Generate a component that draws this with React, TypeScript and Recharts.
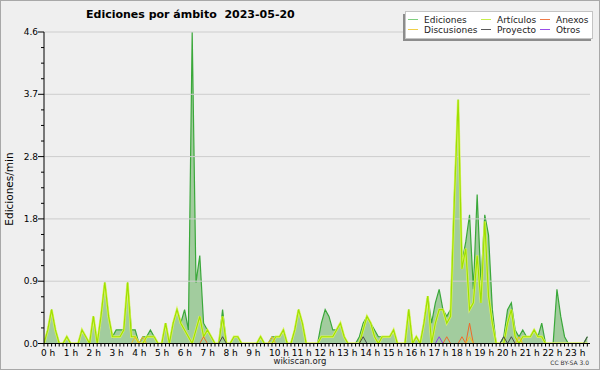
import React from 'react';
import { ComposedChart, Area, Line, XAxis, YAxis, ReferenceLine } from 'recharts';

// 10-minute buckets, 2023-05-20, edits per minute
const ediciones = [
  0, 0.2, 0.5, 0.2, 0, 0, 0.1, 0, 0, 0,
  0.2, 0.1, 0, 0.4, 0, 0.4, 0.9, 0.4, 0.1, 0.2,
  0.2, 0.2, 0.9, 0.2, 0.2, 0, 0.1, 0.1, 0.2, 0.1,
  0, 0, 0.3, 0, 0.3, 0.5, 0.3, 0.5, 0.2, 4.6,
  0.9, 1.3, 0.3, 0.2, 0.1, 0, 0, 0.5, 0, 0,
  0.1, 0.1, 0, 0, 0, 0, 0, 0.1, 0, 0,
  0.1, 0.1, 0.1, 0.2, 0, 0, 0.2, 0.5, 0.3, 0,
  0, 0, 0, 0.3, 0.5, 0.4, 0.2, 0.2, 0.3, 0.1,
  0, 0, 0, 0.1, 0.3, 0.4, 0.3, 0.2, 0.1, 0.1,
  0.1, 0.1, 0.2, 0, 0, 0, 0.5, 0, 0.1, 0,
  0.3, 0.7, 0.3, 0.6, 0.8, 0.5, 0.4, 0.5, 2.2, 3.6,
  1.2, 1.5, 1.9, 0.8, 2.2, 0.9, 1.9, 1.6, 0.5, 0,
  0, 0.1, 0.5, 0.6, 0.2, 0.1, 0.2, 0.1, 0.1, 0.2,
  0.1, 0.3, 0, 0, 0, 0.8, 0.4, 0.1, 0, 0,
  0, 0, 0, 0.1,
];

const articulos = [
  0, 0.2, 0.5, 0.2, 0, 0, 0.1, 0, 0, 0,
  0.2, 0.1, 0, 0.4, 0, 0.4, 0.9, 0.4, 0.1, 0.1,
  0.1, 0.2, 0.9, 0.1, 0.1, 0, 0, 0.1, 0.1, 0.1,
  0, 0, 0.3, 0, 0.3, 0.5, 0.3, 0.2, 0.1, 0,
  0.2, 0.4, 0.1, 0.2, 0.1, 0, 0, 0.4, 0, 0,
  0.1, 0.1, 0, 0, 0, 0, 0, 0.1, 0, 0,
  0, 0.1, 0.1, 0.2, 0, 0, 0.2, 0.5, 0.3, 0,
  0, 0, 0, 0.1, 0.1, 0.1, 0.1, 0.2, 0.3, 0.1,
  0, 0, 0, 0, 0.2, 0.4, 0.3, 0.1, 0, 0.1,
  0.1, 0.1, 0.2, 0, 0, 0, 0.5, 0, 0.1, 0,
  0.3, 0.7, 0, 0.3, 0.5, 0.5, 0.3, 0.4, 2.1, 3.6,
  1.1, 1.4, 0.5, 0.6, 1.3, 0.6, 1.8, 0.7, 0.3, 0,
  0, 0, 0.3, 0.5, 0.1, 0, 0.1, 0.1, 0.1, 0.2,
  0.1, 0.1, 0, 0, 0, 0, 0, 0, 0, 0,
  0, 0, 0, 0,
];

// the small namespaces only have a few non-zero buckets: [bucket, value]
const anexos = [[42, 0.1], [106, 0.1], [110, 0.1], [112, 0.3]];
const discusiones = [[24, 0.1], [26, 0.1], [60, 0.1], [112, 0.1], [125, 0.1]];
const proyecto = [[47, 0.1], [84, 0.1], [121, 0.1], [123, 0.1], [143, 0.1]];
const otros = [[104, 0.1]];

const hourLabels = [
  '0 h', '1 h', '2 h', '3 h', '4 h', '5 h', '6 h', '7 h', '8 h', '9 h', '10 h', '11 h',
  '12 h', '13 h', '14 h', '15 h', '16 h', '17 h', '18 h', '19 h', '20 h', '21 h', '22 h', '23 h',
];
const yMajor = [0, 0.92, 1.84, 2.76, 3.68, 4.6];
const yLabels = ['0.0', '0.9', '1.8', '2.8', '3.7', '4.6'];

const sparse = (pairs: number[][], i: number) => {
  const hit = pairs.find((p) => p[0] === i);
  return hit ? hit[1] : 0;
};

const data = ediciones.map((v, i) => ({
  t: i,
  ed: v,
  art: articulos[i],
  anx: sparse(anexos, i),
  disc: sparse(discusiones, i),
  proy: sparse(proyecto, i),
  otros: sparse(otros, i),
}));

const xTicks = ediciones.map((_, i) => i);
const yTicks: number[] = [];
yMajor.slice(0, -1).forEach((m, k) => {
  const step = (yMajor[k + 1] - m) / 4;
  for (let j = 0; j < 4; j++) yTicks.push(+(m + step * j).toFixed(3));
});
yTicks.push(4.6);

const W = 600;
const H = 370;
const LEFT = 44;
const BOTTOM = 343.5;
const FONT = "'DejaVu Sans', sans-serif";

const XTick = (props: any) => {
  const { x, payload } = props;
  const v = payload.value as number;
  return (
    <g>
      <line x1={x} x2={x} y1={BOTTOM} y2={BOTTOM + 3} stroke="#000" />
      {v % 6 === 0 && (
        <text x={x - 3} y={BOTTOM + 12} fontSize={9} fontFamily={FONT} fill="#000">
          {hourLabels[v / 6]}
        </text>
      )}
    </g>
  );
};

const YTick = (props: any) => {
  const { y, payload } = props;
  const v = payload.value as number;
  const k = yMajor.findIndex((m) => Math.abs(m - v) < 0.001);
  const major = k >= 0;
  return (
    <g>
      <line x1={LEFT - (major ? 6 : 3)} x2={LEFT} y1={y} y2={y} stroke="#000" />
      {major && (
        <text x={LEFT - 6} y={y + 3} fontSize={9} fontFamily={FONT} textAnchor="end" fill="#000">
          {yLabels[k]}
        </text>
      )}
    </g>
  );
};

const legendItems = [
  { name: 'Ediciones', color: '#7fcf7f', col: 0, row: 0 },
  { name: 'Artículos', color: '#c6ee4a', col: 1, row: 0 },
  { name: 'Anexos', color: '#ef7a48', col: 2, row: 0 },
  { name: 'Discusiones', color: '#f0cf48', col: 0, row: 1 },
  { name: 'Proyecto', color: '#5a5a5a', col: 1, row: 1 },
  { name: 'Otros', color: '#9a4ee8', col: 2, row: 1 },
];
const legendCols = [408, 481, 540];

export default function App() {
  return (
    <div
      style={{
        position: 'absolute',
        left: 0,
        top: 0,
        width: W,
        height: H,
        background: '#efefef',
      }}
    >
      <ComposedChart
        width={W}
        height={H}
        data={data}
        margin={{ top: 32, right: 10, bottom: 0, left: 0 }}
      >
        {yMajor.slice(1).map((v) => (
          <ReferenceLine key={v} y={v} stroke="#cdcdcd" strokeWidth={1} />
        ))}
        <XAxis
          type="number"
          dataKey="t"
          domain={[0, 143.7]}
          ticks={xTicks}
          interval={0}
          height={26.5}
          tickLine={false}
          axisLine={{ stroke: '#000' }}
          tick={<XTick />}
          allowDataOverflow
        />
        <YAxis
          type="number"
          domain={[0, 4.6]}
          ticks={yTicks}
          interval={0}
          width={44}
          tickLine={false}
          axisLine={{ stroke: '#000' }}
          tick={<YTick />}
          allowDataOverflow
        />
        <Area
          type="linear"
          dataKey="ed"
          stroke="#3aa83a"
          strokeWidth={1.2}
          fill="#a2cc9e"
          fillOpacity={1}
          isAnimationActive={false}
          dot={false}
          activeDot={false}
        />
        <Line type="linear" dataKey="art" stroke="#dcf468" strokeWidth={2.4} dot={false} activeDot={false} isAnimationActive={false} />
        <Line type="linear" dataKey="art" stroke="#9fe000" strokeWidth={1.2} dot={false} activeDot={false} isAnimationActive={false} />
        <Line type="linear" dataKey="anx" stroke="#ee6a2a" strokeWidth={1} dot={false} activeDot={false} isAnimationActive={false} />
        <Line type="linear" dataKey="disc" stroke="#f0c020" strokeWidth={1} dot={false} activeDot={false} isAnimationActive={false} />
        <Line type="linear" dataKey="proy" stroke="#4a4a4a" strokeWidth={1} dot={false} activeDot={false} isAnimationActive={false} />
        <Line type="linear" dataKey="otros" stroke="#8f3fe8" strokeWidth={1} dot={false} activeDot={false} isAnimationActive={false} />
      </ComposedChart>

      <svg
        width={W}
        height={H}
        style={{ position: 'absolute', left: 0, top: 0, pointerEvents: 'none' }}
      >
        <rect x={0.5} y={0.5} width={W - 1} height={H - 1} fill="none" stroke="#a8a8a8" />
        <text x={86} y={18} fontSize={11} fontWeight="bold" fontFamily={FONT} fill="#000">
          Ediciones por ámbito{'\u00a0\u00a0'}2023-05-20
        </text>
        <text
          x={13}
          y={189}
          fontSize={10.5}
          fontFamily={FONT}
          textAnchor="middle"
          transform="rotate(-90 13 189)"
          fill="#000"
        >
          Ediciones/min
        </text>
        <text x={300} y={364} fontSize={8.5} fontFamily={FONT} textAnchor="middle" fill="#222">
          wikiscan.org
        </text>
        <text x={589} y={365} fontSize={6} fontFamily={FONT} textAnchor="end" fill="#333">
          CC BY-SA 3.0
        </text>

        <rect x={403} y={14} width={188} height={27} fill="#8c8c8c" />
        <rect x={405.5} y={11.5} width={187} height={27} fill="#fff" stroke="#c4c4c4" />
        {legendItems.map((it) => {
          const lx = legendCols[it.col];
          const ly = 19.5 + it.row * 10;
          return (
            <g key={it.name}>
              <line x1={lx} x2={lx + 10} y1={ly} y2={ly} stroke={it.color} strokeWidth={1} />
              <text x={lx + 16} y={ly + 3} fontSize={9} fontFamily={FONT} fill="#222">
                {it.name}
              </text>
            </g>
          );
        })}
      </svg>
    </div>
  );
}
